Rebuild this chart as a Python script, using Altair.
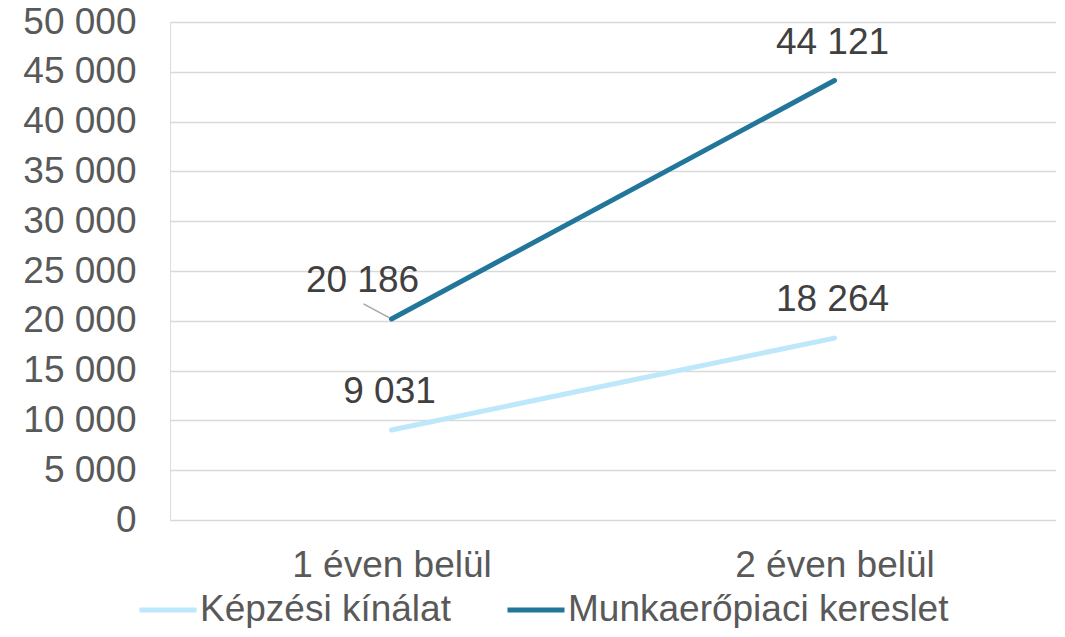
import altair as alt
import pandas as pd

categories = ["1 éven belül", "2 éven belül"]
series_names = ["Képzési kínálat", "Munkaerőpiaci kereslet"]
kepzesi = [9031, 18264]
munkaero = [20186, 44121]
y_ticks = [0, 5000, 10000, 15000, 20000, 25000, 30000, 35000, 40000, 45000, 50000]
colors = ["#BDE7FA", "#21769A"]

rows = []
for s, vals in zip(series_names, [kepzesi, munkaero]):
    for c, v in zip(categories, vals):
        rows.append({"cat": c, "series": s, "value": v})
df = pd.DataFrame(rows)

FONT = "Liberation Sans"
FS = 37
fmt = "replace(format(datum.value, ','), ',', ' ')"

x = alt.X(
    "cat:N", sort=categories,
    scale=alt.Scale(type="point", padding=0.5),
    axis=alt.Axis(title=None, labelAngle=0, domain=False, ticks=False, grid=False,
                  labelFontSize=FS, labelColor="#595959", labelPadding=27, labelFont=FONT,
                  labelLimit=600),
)
y = alt.Y(
    "value:Q",
    scale=alt.Scale(domain=[0, 50000], nice=False),
    axis=alt.Axis(title=None, values=y_ticks, labelExpr=fmt, grid=True, gridColor="#D9D9D9",
                  gridWidth=1.5, domain=False, ticks=False, labelPadding=34,
                  labelFontSize=FS, labelColor="#595959", labelFont=FONT),
)
color = alt.Color(
    "series:N",
    scale=alt.Scale(domain=series_names, range=colors),
    legend=alt.Legend(title=None, orient="none", legendX=-33, legendY=557, direction="horizontal",
                      symbolType="stroke", symbolStrokeWidth=5, symbolSize=3249,
                      labelFontSize=FS, labelColor="#595959", labelFont=FONT,
                      columnPadding=46, labelOffset=1, labelLimit=600),
)

base = alt.Chart(df)

lines = base.mark_line(strokeWidth=5, strokeCap="round").encode(
    x=x, y=y, color=color, detail="series:N"
)

special = "datum.series == 'Munkaerőpiaci kereslet' && datum.cat == '1 éven belül'"

labels = base.transform_calculate(label=fmt).transform_filter(
    "!(" + special + ")"
).mark_text(fontSize=FS, color="#404040", font=FONT, dy=-38, dx=-2).encode(
    x=x, y=y, text="label:N"
)

special_label = base.transform_calculate(label=fmt).transform_filter(special).mark_text(
    fontSize=FS, color="#404040", font=FONT, dy=-38, dx=-29
).encode(x=x, y=y, text="label:N")

leader = base.transform_filter(special).mark_rule(
    color="#A6A6A6", strokeWidth=1.5, xOffset=-2, yOffset=-1, x2Offset=-28, y2Offset=-15
).encode(x=x, y=y, x2=alt.X2("cat:N"), y2=alt.Y2("value:Q"))

chart = alt.layer(lines, leader, labels, special_label).properties(
    width=886, height=498,
    padding={"left": 162, "top": 14, "right": 0, "bottom": 108},
    autosize=alt.AutoSizeParams(type="none"),
).configure_view(stroke=None).configure(font=FONT)

chart.save("out.html", embed_options={"renderer": "svg", "actions": False})
